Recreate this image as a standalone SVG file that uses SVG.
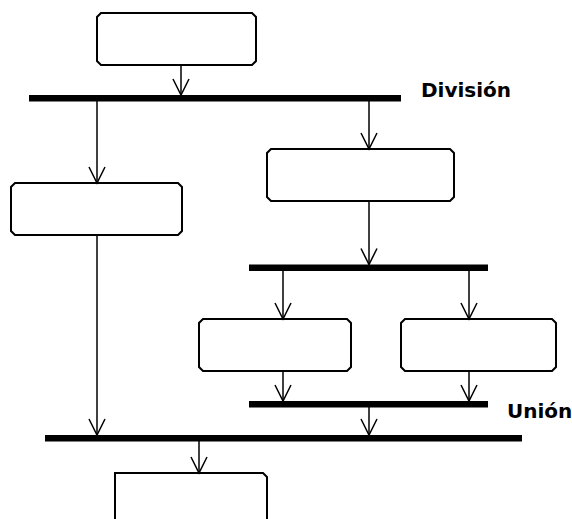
<svg xmlns="http://www.w3.org/2000/svg" width="572" height="519" viewBox="0 0 572 519">
<defs>
<style>
.box{fill:#fff;stroke:#000;stroke-width:2;stroke-linejoin:miter}
.bar{fill:#000}
.c line{stroke:#000;stroke-width:1.5;fill:none}
.lbl{font-family:"DejaVu Sans",sans-serif;font-weight:bold;font-size:20px;fill:#000}
</style>
<marker id="ah" markerUnits="userSpaceOnUse" markerWidth="20" markerHeight="20" viewBox="-18 -10 20 20" refX="0" refY="0" orient="auto" overflow="visible">
<path d="M-16,-8 L0,0 L-16,8" fill="none" stroke="#000" stroke-width="1.5"/>
</marker>
</defs>
<rect width="572" height="519" fill="#fff"/>
<g id="n_top"><path class="box" d="M101,13 H252 L256,17 V61 L252,65 H101 L97,61 V17 Z"/></g>
<g id="bar_division"><rect class="bar" x="29" y="95" width="372" height="6.5"/><text class="lbl" x="421" y="97">División</text></g>
<g id="n_left"><path class="box" d="M15,183 H178 L182,187 V231 L178,235 H15 L11,231 V187 Z"/></g>
<g id="n_right"><path class="box" d="M271,149 H450 L454,153 V197 L450,201 H271 L267,197 V153 Z"/></g>
<g id="bar_fork2"><rect class="bar" x="249" y="264.5" width="239" height="6.5"/></g>
<g id="n_mid_left"><path class="box" d="M203,319 H347 L351,323 V367 L347,371 H203 L199,367 V323 Z"/></g>
<g id="n_mid_right"><path class="box" d="M405,319 H552 L556,323 V367 L552,371 H405 L401,367 V323 Z"/></g>
<g id="bar_union"><rect class="bar" x="249" y="401" width="239" height="6.5"/><text class="lbl" x="507" y="418">Unión</text></g>
<g id="bar_join"><rect class="bar" x="45" y="435" width="477" height="6.5"/></g>
<g id="n_bottom"><path class="box" d="M115,530 V473 H263 L267,477 V530"/></g>
<g id="connectors" class="c">
<line x1="181" y1="65" x2="181" y2="95" marker-end="url(#ah)"/>
<line x1="97" y1="101" x2="97" y2="183" marker-end="url(#ah)"/>
<line x1="369" y1="101" x2="369" y2="149" marker-end="url(#ah)"/>
<line x1="369" y1="201" x2="369" y2="264.5" marker-end="url(#ah)"/>
<line x1="283" y1="271" x2="283" y2="319" marker-end="url(#ah)"/>
<line x1="469" y1="271" x2="469" y2="319" marker-end="url(#ah)"/>
<line x1="283" y1="371" x2="283" y2="401" marker-end="url(#ah)"/>
<line x1="469" y1="371" x2="469" y2="401" marker-end="url(#ah)"/>
<line x1="369" y1="407" x2="369" y2="435" marker-end="url(#ah)"/>
<line x1="97" y1="235" x2="97" y2="435" marker-end="url(#ah)"/>
<line x1="199" y1="441" x2="199" y2="473" marker-end="url(#ah)"/>
</g>
</svg>
